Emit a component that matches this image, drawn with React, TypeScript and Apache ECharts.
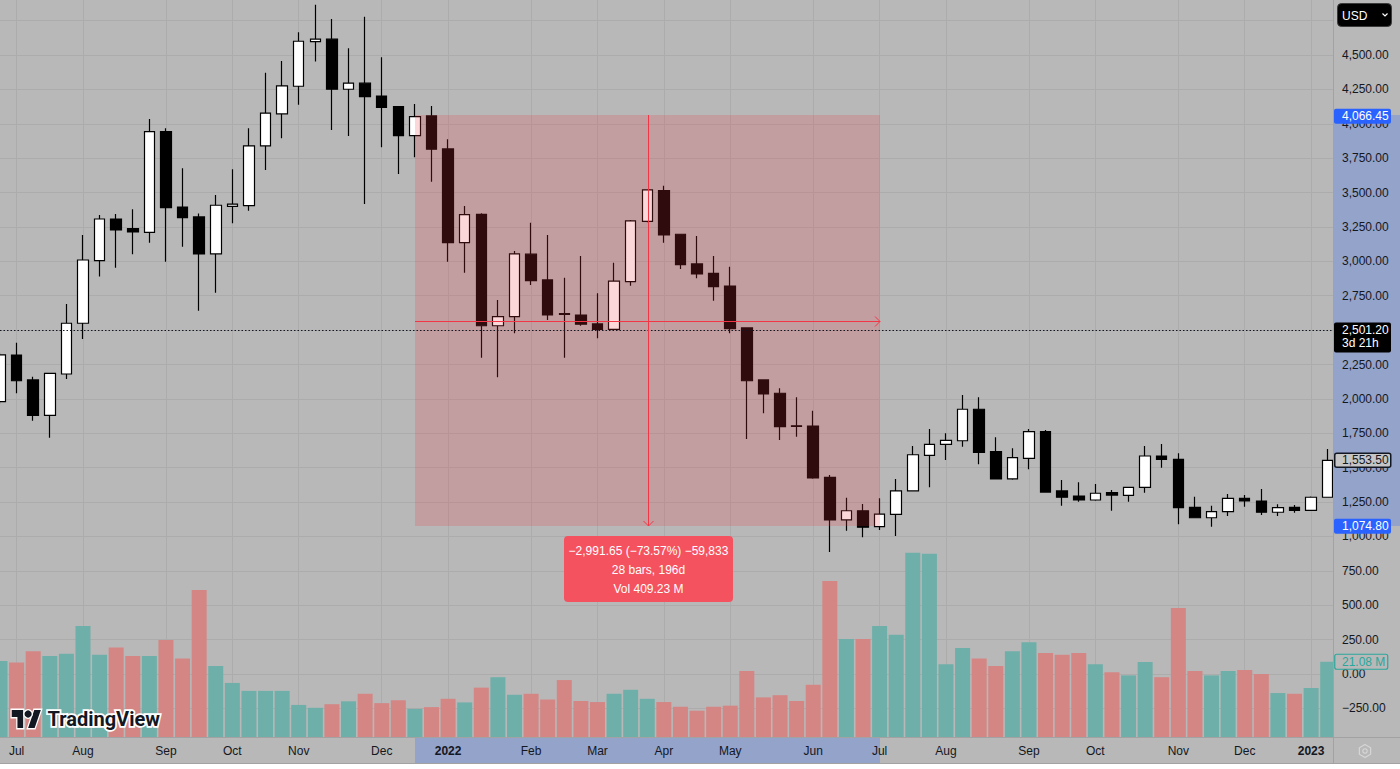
import React, { useEffect, useRef } from "react";
import * as echarts from "echarts";

// ---------- data ----------
const weeks = [
  "2021-06-28", "2021-07-05", "2021-07-12", "2021-07-19", "2021-07-26",
  "2021-08-02", "2021-08-09", "2021-08-16", "2021-08-23", "2021-08-30",
  "2021-09-06", "2021-09-13", "2021-09-20", "2021-09-27",
  "2021-10-04", "2021-10-11", "2021-10-18", "2021-10-25",
  "2021-11-01", "2021-11-08", "2021-11-15", "2021-11-22", "2021-11-29",
  "2021-12-06", "2021-12-13", "2021-12-20", "2021-12-27",
  "2022-01-03", "2022-01-10", "2022-01-17", "2022-01-24", "2022-01-31",
  "2022-02-07", "2022-02-14", "2022-02-21", "2022-02-28",
  "2022-03-07", "2022-03-14", "2022-03-21", "2022-03-28",
  "2022-04-04", "2022-04-11", "2022-04-18", "2022-04-25",
  "2022-05-02", "2022-05-09", "2022-05-16", "2022-05-23", "2022-05-30",
  "2022-06-06", "2022-06-13", "2022-06-20", "2022-06-27",
  "2022-07-04", "2022-07-11", "2022-07-18", "2022-07-25",
  "2022-08-01", "2022-08-08", "2022-08-15", "2022-08-22", "2022-08-29",
  "2022-09-05", "2022-09-12", "2022-09-19", "2022-09-26",
  "2022-10-03", "2022-10-10", "2022-10-17", "2022-10-24", "2022-10-31",
  "2022-11-07", "2022-11-14", "2022-11-21", "2022-11-28",
  "2022-12-05", "2022-12-12", "2022-12-19", "2022-12-26",
  "2023-01-02", "2023-01-09",
];

const openP = [
  1980, 2319, 2138, 1881, 2181, 2550, 3005, 3308, 3238, 3211,
  3943, 3395, 3323, 3054, 3400, 3405, 3839, 4072, 4273, 4597,
  4615, 4251, 4295, 4202, 4125, 3914, 4057, 3817, 3136, 3342,
  2532, 2598, 3052, 2865, 2620, 2610, 2545, 2506, 2852, 3291,
  3514, 3197, 2981, 2913, 2821, 2516, 2138, 2041, 1805, 1803,
  1430, 1120, 1187, 1071, 1161, 1331, 1590, 1670, 1696, 1925,
  1617, 1418, 1568, 1762, 1331, 1294, 1265, 1318, 1299, 1357,
  1585, 1561, 1212, 1136, 1180, 1277, 1258, 1176, 1212, 1190,
  1285,
];
const closeP = [
  2320, 2132, 1881, 2186, 2550, 3010, 3308, 3228, 3214, 3943,
  3390, 3318, 3054, 3408, 3416, 3839, 4077, 4275, 4600, 4615,
  4251, 4295, 4197, 4120, 3914, 4052, 3815, 3136, 3339, 2532,
  2598, 3054, 2860, 2610, 2615, 2543, 2506, 2857, 3294, 3519,
  3192, 2976, 2908, 2816, 2511, 2132, 2036, 1798, 1800, 1425,
  1120, 1187, 1067, 1163, 1331, 1594, 1670, 1699, 1925, 1612,
  1418, 1573, 1762, 1323, 1285, 1265, 1314, 1301, 1357, 1585,
  1561, 1209, 1136, 1180, 1277, 1258, 1176, 1209, 1190, 1285,
  1553.5,
];
const lowP = [
  1965, 2041, 1842, 1718, 2145, 2436, 2889, 2954, 3052, 3136,
  2998, 3107, 2641, 2772, 3277, 3368, 3664, 3895, 4139, 4452,
  3955, 3912, 3417, 3829, 3635, 3757, 3579, 2998, 2918, 2300,
  2157, 2477, 2828, 2574, 2300, 2532, 2441, 2500, 2823, 3285,
  3136, 2945, 2877, 2714, 2477, 1709, 1895, 1701, 1725, 1420,
  887, 1042, 994, 1047, 1003, 1328, 1357, 1556, 1653, 1525,
  1415, 1412, 1488, 1320, 1224, 1253, 1260, 1187, 1253, 1318,
  1500, 1088, 1133, 1071, 1149, 1216, 1156, 1149, 1173, 1188,
  1282,
];
const highP = [
  2335, 2409, 2162, 2191, 2690, 3192, 3337, 3345, 3379, 4035,
  3968, 3677, 3347, 3483, 3670, 3968, 4372, 4457, 4666, 4866,
  4762, 4549, 4779, 4484, 4130, 4144, 4130, 3888, 3403, 3350,
  2719, 3075, 3281, 3192, 2881, 3039, 2768, 2990, 3300, 3524,
  3550, 3200, 3185, 3039, 2961, 2520, 2140, 2077, 2012, 1914,
  1447, 1282, 1236, 1277, 1418, 1658, 1781, 1750, 2028, 2012,
  1721, 1641, 1781, 1774, 1410, 1394, 1381, 1338, 1360, 1658,
  1672, 1605, 1289, 1224, 1309, 1301, 1345, 1234, 1229, 1290,
  1636,
];
// weekly volume, millions
const volumeM = [
  21.3, 20.9, 24.0, 22.7, 23.3, 31.0, 23.0, 25.0, 22.7, 22.7,
  27.1, 22.0, 41.0, 19.9, 15.2, 13.0, 13.0, 13.0, 9.1, 8.3,
  9.3, 10.1, 12.2, 9.6, 10.4, 8.0, 8.5, 10.8, 9.8, 13.9,
  16.8, 11.9, 12.2, 10.6, 16.0, 10.2, 9.9, 12.2, 13.3, 10.8,
  9.9, 8.6, 7.5, 8.6, 8.9, 18.5, 11.2, 11.8, 10.2, 14.7,
  43.5, 27.4, 27.4, 31.0, 28.6, 51.3, 51.0, 20.4, 24.9, 22.0,
  19.9, 24.0, 26.5, 23.5, 23.0, 23.5, 20.4, 18.2, 17.3, 21.0,
  16.8, 36.0, 18.5, 17.3, 18.5, 18.8, 17.7, 12.4, 12.2, 13.8,
  21.08,
];

const tickWeeks = [
  "2021-07-05", "2021-08-02", "2021-09-06", "2021-10-04", "2021-11-01", "2021-12-06",
  "2022-01-03", "2022-02-07", "2022-03-07", "2022-04-04", "2022-05-02", "2022-06-06",
  "2022-07-04", "2022-08-01", "2022-09-05", "2022-10-03", "2022-11-07", "2022-12-05",
  "2023-01-02",
];
const tickLabels = [
  "Jul", "Aug", "Sep", "Oct", "Nov", "Dec",
  "2022", "Feb", "Mar", "Apr", "May", "Jun",
  "Jul", "Aug", "Sep", "Oct", "Nov", "Dec",
  "2023",
];

// price scale
const priceMin = -500;
const priceMax = 4900;
const priceStep = 250;
const priceLabelLow = -250;
const priceLabelHigh = 4500;
// volume overlay scale (millions)
const volMin = -1.4;
const volMax = 204.6;

// measurement tool
const measStart = "2021-12-20";
const measEnd = "2022-07-04";
const measTop = 4066.45;
const measBottom = 1074.8;
const measTick = 0.05;
const measBars = 28;
const measDays = 196;
const measVol = 409.23;

// price lines / tags
const refPrice = 2501.2;
const refCountdown = "3d 21h";
const lastPrice = 1553.5;
const lastVolume = 21.08;
const currency = "USD";

// ---------- style constants ----------
const FONT = "'Liberation Sans', Arial, sans-serif";
const TEXT = "#131722";
const BG = "#b8b8b8";
const GRIDC = "#acacac";
const SEP = "#a2a2a2";
const PANEL_X = 1334;
const AXIS_TOP = 738;
const CHART_W = 1400;
const CHART_H = 764;
const GRID_RIGHT = 55.7;
const RED = "#f23645";
const HILITE = "rgba(41,98,255,0.25)";

const cats = [...weeks, "pad-end"];
const tickMap: Record<string, string> = {};
tickWeeks.forEach((w, i) => (tickMap[w] = tickLabels[i]));

const fmtNum = (v: number, d: number) => {
  const s = Math.abs(v).toLocaleString("en-US", {
    minimumFractionDigits: d,
    maximumFractionDigits: d,
  });
  return (v < 0 ? "\u2212" : "") + s;
};

echarts.graphic.registerShape(
  "tvlogo",
  echarts.graphic.extendPath("M14 22H7V11H0V4h14v18zM28 22h-8l7.5-18h8L28 22z", {})
);

const candleData = cats.map((c, i) => {
  if (i >= weeks.length) return "-";
  return [openP[i], closeP[i], lowP[i], highP[i]];
});
const volData = cats.map((c, i) => {
  if (i >= weeks.length) return "-";
  const up = closeP[i] >= openP[i];
  return { value: volumeM[i], itemStyle: { color: up ? "#6fafa9" : "#d48684" } };
});

const txt = (text: string, x: number, y: number, fill: string, size = 12, align = "left", weight = "normal") => ({
  type: "text",
  style: {
    text,
    x,
    y,
    fill,
    font: `${weight} ${size}px ${FONT}`,
    align,
    verticalAlign: "middle",
  },
});

const boxRender = (params: any, api: any) => {
  const i0 = cats.indexOf(measStart);
  const i1 = cats.indexOf(measEnd);
  const p0 = api.coord([i0, measTop]);
  const p1 = api.coord([i1, measBottom]);
  const x0 = Math.round(p0[0]);
  const x1 = Math.round(p1[0]);
  const yT = Math.round(p0[1]);
  const yB = Math.round(p1[1]);
  const xm = Math.round((x0 + x1) / 2) + 0.5;
  const ym = Math.round((yT + yB) / 2) + 0.5;
  const diff = measBottom - measTop;
  const pct = (diff / measTop) * 100;
  const ticks = Math.round(diff / measTick);
  const line1 = `${fmtNum(diff, 2)} (${fmtNum(pct, 2)}%) ${fmtNum(ticks, 0)}`;
  const yRef = Math.round(api.coord([0, refPrice])[1]) + 0.5;
  const lbW = 169;
  const lbTop = yB + 10;
  const lbH = 66;
  return {
    type: "group",
    children: [
      { type: "rect", shape: { x: x0, y: yT, width: x1 - x0, height: yB - yT }, style: { fill: "rgba(242,54,69,0.2)" } },
      { type: "line", shape: { x1: 0, y1: yRef, x2: PANEL_X, y2: yRef }, style: { stroke: TEXT, lineWidth: 1, lineDash: [1.5, 2] } },
      { type: "line", shape: { x1: x0, y1: ym, x2: x1, y2: ym }, style: { stroke: RED, lineWidth: 1 } },
      { type: "polyline", shape: { points: [[x1 - 5, ym - 5], [x1, ym], [x1 - 5, ym + 5]] }, style: { stroke: RED, lineWidth: 1, fill: null } },
      { type: "line", shape: { x1: xm, y1: yT, x2: xm, y2: yB }, style: { stroke: RED, lineWidth: 1 } },
      { type: "polyline", shape: { points: [[xm - 5, yB - 5], [xm, yB], [xm + 5, yB - 5]] }, style: { stroke: RED, lineWidth: 1, fill: null } },
      { type: "rect", shape: { x: xm - lbW / 2, y: lbTop, width: lbW, height: lbH, r: 4 }, style: { fill: "#f5525f" } },
      txt(line1, xm, lbTop + 15, "#ffffff", 12, "center"),
      txt(`${measBars} bars, ${measDays}d`, xm, lbTop + 34, "#ffffff", 12, "center"),
      txt(`Vol ${measVol.toFixed(2)} M`, xm, lbTop + 52.5, "#ffffff", 12, "center"),
    ],
  };
};

const highlightRender = (params: any, api: any) => {
  const p0 = api.coord([cats.indexOf(measStart), measTop]);
  const p1 = api.coord([cats.indexOf(measEnd), measBottom]);
  const x0 = Math.round(p0[0]);
  const x1 = Math.round(p1[0]);
  const yT = Math.round(p0[1]);
  const yB = Math.round(p1[1]);
  return {
    type: "group",
    children: [
      { type: "rect", shape: { x: PANEL_X, y: yT, width: CHART_W - PANEL_X, height: yB - yT }, style: { fill: HILITE } },
      { type: "rect", shape: { x: x0, y: AXIS_TOP, width: x1 - x0, height: CHART_H - AXIS_TOP - 1 }, style: { fill: HILITE } },
    ],
  };
};

const tagRender = (params: any, api: any) => {
  const yTop = api.coord([0, measTop])[1] + 1.5;
  const yBot = api.coord([0, measBottom])[1];
  const yRef = api.coord([0, refPrice])[1];
  const yLast = api.coord([0, lastPrice])[1];
  const lx = PANEL_X + 8;
  return {
    type: "group",
    children: [
      { type: "rect", shape: { x: PANEL_X, y: yTop - 7.5, width: 57, height: 15, r: 2 }, style: { fill: "#2962ff" } },
      txt(fmtNum(measTop, 2), lx, yTop, "#ffffff"),
      { type: "rect", shape: { x: PANEL_X, y: yBot - 7.5, width: 57, height: 15, r: 2 }, style: { fill: "#2962ff" } },
      txt(fmtNum(measBottom, 2), lx, yBot, "#ffffff"),
      { type: "rect", shape: { x: PANEL_X, y: yRef - 7.5, width: 57, height: 30, r: 2 }, style: { fill: "#000000" } },
      txt(fmtNum(refPrice, 2), lx, yRef, "#ffffff"),
      txt(refCountdown, lx, yRef + 13.5, "#ffffff"),
      { type: "rect", shape: { x: PANEL_X + 0.75, y: yLast - 7, width: 56, height: 14, r: 2 }, style: { fill: "#c6c6c6", stroke: TEXT, lineWidth: 1.5 } },
      txt(fmtNum(lastPrice, 2), lx, yLast, TEXT),
    ],
  };
};

const volTagRender = (params: any, api: any) => {
  const y = api.coord([0, lastVolume])[1];
  return {
    type: "group",
    children: [
      { type: "rect", shape: { x: PANEL_X + 0.75, y: y - 7.5, width: 53, height: 15, r: 2 }, style: { fill: BG, stroke: "#2aa79b", lineWidth: 1.2 } },
      txt(`${fmtNum(lastVolume, 2)} M`, PANEL_X + 8, y, "#2aa79b"),
    ],
  };
};

const hexPoints = (cx: number, cy: number, r: number) =>
  [-90, -30, 30, 90, 150, 210].map((a) => [cx + r * Math.cos((a * Math.PI) / 180), cy + r * Math.sin((a * Math.PI) / 180)]);

const option: any = {
  animation: false,
  backgroundColor: BG,
  textStyle: { fontFamily: FONT },
  grid: { left: 0, right: GRID_RIGHT, top: 0, bottom: CHART_H - 742.8, containLabel: false },
  xAxis: [
    {
      type: "category",
      data: cats,
      boundaryGap: false,
      position: "bottom",
      z: 0,
      axisLine: { show: false },
      axisTick: { show: false },
      axisLabel: { show: false },
      splitLine: {
        show: true,
        interval: (i: number, v: string) => !!tickMap[v],
        lineStyle: { color: GRIDC, width: 1 },
      },
    },
    {
      type: "category",
      data: cats,
      boundaryGap: false,
      position: "bottom",
      z: 8,
      axisLine: { show: false },
      axisTick: { show: false },
      splitLine: { show: false },
      axisLabel: {
        show: true,
        interval: (i: number, v: string) => !!tickMap[v],
        margin: 2,
        color: TEXT,
        fontSize: 12,
        fontFamily: FONT,
        formatter: (v: string) => {
          const t = tickMap[v] || "";
          return /^\d{4}$/.test(t) ? `{b|${t}}` : t;
        },
        rich: { b: { fontWeight: "bold", fontSize: 12, color: TEXT, fontFamily: FONT } },
      },
    },
  ],
  yAxis: [
    {
      type: "value",
      min: priceMin,
      max: priceMax,
      interval: priceStep,
      position: "right",
      z: 0,
      axisLine: { show: false },
      axisTick: { show: false },
      axisLabel: { show: false },
      splitLine: { show: true, showMaxLine: false, lineStyle: { color: GRIDC, width: 1 } },
    },
    {
      type: "value",
      min: volMin,
      max: volMax,
      show: false,
      splitLine: { show: false },
    },
    {
      type: "value",
      min: priceMin,
      max: priceMax,
      interval: priceStep,
      position: "right",
      offset: -(CHART_W - GRID_RIGHT - PANEL_X),
      z: 8,
      axisLine: { show: false },
      axisTick: { show: false },
      splitLine: { show: false },
      axisLabel: {
        show: true,
        margin: 8,
        color: TEXT,
        fontSize: 12,
        fontFamily: FONT,
        formatter: (v: number) => (v < priceLabelLow || v > priceLabelHigh ? "" : fmtNum(v, 2)),
      },
    },
  ],
  series: [
    {
      type: "bar",
      xAxisIndex: 0,
      yAxisIndex: 1,
      z: 2,
      barWidth: 15,
      data: volData,
      silent: true,
    },
    {
      type: "candlestick",
      xAxisIndex: 0,
      yAxisIndex: 0,
      z: 3,
      barWidth: 11,
      silent: true,
      itemStyle: {
        color: "#ffffff",
        color0: "#000000",
        borderColor: "#000000",
        borderColor0: "#000000",
        borderWidth: 1.2,
      },
      data: candleData,
    },
    { type: "custom", xAxisIndex: 0, yAxisIndex: 0, z: 4, silent: true, data: [[0, 0]], renderItem: boxRender },
    { type: "custom", xAxisIndex: 0, yAxisIndex: 0, z: 7, silent: true, data: [[0, 0]], renderItem: highlightRender },
    { type: "custom", xAxisIndex: 0, yAxisIndex: 0, z: 9, silent: true, data: [[0, 0]], renderItem: tagRender },
    { type: "custom", xAxisIndex: 0, yAxisIndex: 1, z: 9, silent: true, data: [[0, 0]], renderItem: volTagRender },
  ],
  graphic: [
    { type: "rect", z: 6, silent: true, shape: { x: PANEL_X, y: 0, width: CHART_W - PANEL_X, height: CHART_H }, style: { fill: BG } },
    { type: "rect", z: 6, silent: true, shape: { x: 0, y: AXIS_TOP, width: PANEL_X, height: CHART_H - AXIS_TOP }, style: { fill: BG } },
    { type: "line", z: 6, silent: true, shape: { x1: PANEL_X - 0.5, y1: 0, x2: PANEL_X - 0.5, y2: CHART_H }, style: { stroke: SEP, lineWidth: 1 } },
    { type: "line", z: 6, silent: true, shape: { x1: 0, y1: AXIS_TOP - 0.5, x2: CHART_W, y2: AXIS_TOP - 0.5 }, style: { stroke: SEP, lineWidth: 1 } },
    { type: "line", z: 6, silent: true, shape: { x1: 0, y1: CHART_H - 0.5, x2: CHART_W, y2: CHART_H - 0.5 }, style: { stroke: SEP, lineWidth: 1 } },
    // currency button
    { type: "rect", z: 10, silent: true, shape: { x: 1337.5, y: 3.5, width: 54, height: 23, r: 4 }, style: { fill: "#000000", stroke: "#3a3a3a", lineWidth: 1 } },
    { type: "text", z: 10, silent: true, x: 1342, y: 15.5, style: { text: currency, fill: "#ffffff", font: `12px ${FONT}`, verticalAlign: "middle" } },
    { type: "polyline", z: 10, silent: true, shape: { points: [[1382.5, 13.5], [1385, 16], [1387.5, 13.5]] }, style: { stroke: "#ffffff", lineWidth: 1.2, fill: null } },
    // settings icon
    { type: "polygon", z: 10, silent: true, shape: { points: hexPoints(1365, 751, 6.5) }, style: { fill: null, stroke: "#d6d6d6", lineWidth: 1.2 } },
    { type: "circle", z: 10, silent: true, shape: { cx: 1365, cy: 751, r: 2.2 }, style: { fill: null, stroke: "#d6d6d6", lineWidth: 1.2 } },
    // TradingView watermark
    { type: "tvlogo", z: 10, silent: true, x: 11.7, y: 706, scaleX: 0.82, scaleY: 1, style: { fill: TEXT, stroke: "#ffffff", lineWidth: 3, strokeFirst: true } },
    { type: "circle", z: 10, silent: true, shape: { cx: 11.7 + 20 * 0.82, cy: 714, r: 3.6 }, style: { fill: TEXT, stroke: "#ffffff", lineWidth: 2.5, strokeFirst: true } },
    { type: "text", z: 10, silent: true, x: 47.5, y: 718.5, style: { text: "TradingView", fill: TEXT, stroke: "#ffffff", lineWidth: 3.5, font: `bold 20px Roboto, ${FONT}`, verticalAlign: "middle" } },
  ],
};

export default function App() {
  const ref = useRef<HTMLDivElement>(null);
  useEffect(() => {
    if (!ref.current) return;
    const chart = echarts.init(ref.current, null, { renderer: "svg" });
    chart.setOption(option);
    return () => chart.dispose();
  }, []);
  return (
    <div
      ref={ref}
      style={{ position: "fixed", left: 0, top: 0, width: CHART_W, height: CHART_H }}
    />
  );
}
